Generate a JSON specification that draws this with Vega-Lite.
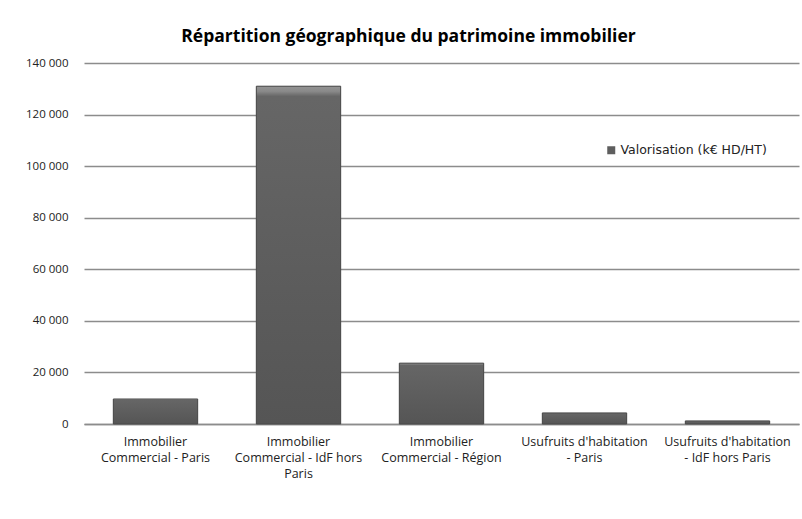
{
  "$schema": "https://vega.github.io/schema/vega-lite/v6.json",
  "autosize": "none",
  "width": 715,
  "height": 361,
  "padding": {"left": 84, "top": 63, "right": 3, "bottom": 95},
  "background": "white",
  "config": {
    "view": {"stroke": null},
    "font": "Open Sans"
  },
  "title": {
    "text": "Répartition géographique du patrimoine immobilier",
    "font": "Open Sans",
    "fontSize": 17.5,
    "fontWeight": "bold",
    "color": "#000000",
    "anchor": "middle",
    "frame": "group",
    "dx": -33,
    "offset": 12
  },
  "data": {
    "values": [
      {"categorie": "Immobilier Commercial - Paris", "valeur": 9700, "serie": "Valorisation (k€ HD/HT)"},
      {"categorie": "Immobilier Commercial - IdF hors Paris", "valeur": 131000, "serie": "Valorisation (k€ HD/HT)"},
      {"categorie": "Immobilier Commercial - Région", "valeur": 23600, "serie": "Valorisation (k€ HD/HT)"},
      {"categorie": "Usufruits d'habitation - Paris", "valeur": 4300, "serie": "Valorisation (k€ HD/HT)"},
      {"categorie": "Usufruits d'habitation - IdF hors Paris", "valeur": 1200, "serie": "Valorisation (k€ HD/HT)"}
    ]
  },
  "encoding": {
    "x": {
      "field": "categorie",
      "type": "nominal",
      "sort": null,
      "scale": {"paddingInner": 0.41, "paddingOuter": 0.205},
      "axis": {
        "title": null,
        "labelAngle": 0,
        "labelFont": "Open Sans",
        "labelFontSize": 12.5,
        "labelColor": "#222222",
        "labelPadding": 11,
        "labelLineHeight": 16,
        "labelBaseline": "top",
        "ticks": false,
        "domain": true,
        "domainColor": "#8c8c8c",
        "domainWidth": 1.5,
        "labelLimit": 300,
        "labelExpr": "{'Immobilier Commercial - Paris': ['Immobilier', 'Commercial - Paris'], 'Immobilier Commercial - IdF hors Paris': ['Immobilier', 'Commercial - IdF hors', 'Paris'], 'Immobilier Commercial - Région': ['Immobilier', 'Commercial - Région'], 'Usufruits d\\'habitation - Paris': ['Usufruits d\\'habitation', '- Paris'], 'Usufruits d\\'habitation - IdF hors Paris': ['Usufruits d\\'habitation', '- IdF hors Paris']}[datum.value]"
      }
    },
    "y": {
      "field": "valeur",
      "type": "quantitative",
      "scale": {"domain": [0, 140000], "nice": false},
      "axis": {
        "title": null,
        "values": [0, 20000, 40000, 60000, 80000, 100000, 120000, 140000],
        "domain": false,
        "ticks": false,
        "labelPadding": 16,
        "labelFont": "Open Sans",
        "labelFontSize": 11.5,
        "labelColor": "#222222",
        "gridColor": "#8c8c8c",
        "gridWidth": 1.5,
        "labelExpr": "replace(format(datum.value, ','), ',', ' ')"
      }
    }
  },
  "layer": [
    {
      "mark": {"type": "bar"},
      "encoding": {
        "color": {
          "field": "serie",
          "type": "nominal",
          "scale": {"range": ["#5e5e5e"]},
          "legend": {
            "title": null,
            "orient": "none",
            "legendX": 521,
            "legendY": 81,
            "symbolType": "square",
            "symbolSize": 64,
            "labelFont": "DejaVu Sans",
            "labelFontSize": 12.5,
            "labelColor": "#222222",
            "labelOffset": 3
          }
        }
      }
    },
    {
      "mark": {
        "type": "bar",
        "stroke": "#4a4a4a",
        "strokeWidth": 1,
        "fill": {
          "gradient": "linear",
          "x1": 0, "y1": 0, "x2": 0, "y2": 1,
          "stops": [
            {"offset": 0, "color": "#939393"},
            {"offset": 0.015, "color": "#8a8a8a"},
            {"offset": 0.03, "color": "#666666"},
            {"offset": 1, "color": "#555555"}
          ]
        }
      }
    }
  ]
}
